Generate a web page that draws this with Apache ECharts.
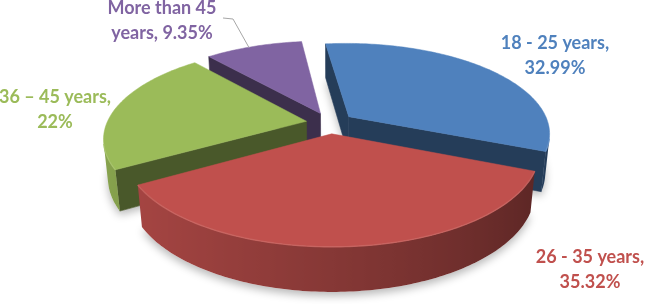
<!DOCTYPE html>
<html><head><meta charset="utf-8">
<script src="https://cdn.jsdelivr.net/npm/echarts@6/dist/echarts.min.js"></script>
<style>html,body{margin:0;padding:0;background:#fff}#chart{width:645px;height:304px}</style>
</head><body><div id="chart"></div>
<script>
// ---- data ----
const categories = ['18 - 25 years', '26 - 35 years', '36 \u2013 45 years', 'More than 45 years'];
const values = [32.99, 35.32, 22, 9.35];

// ---- style / layout ----
const colors = ['#4F81BD', '#C0504D', '#9BBB59', '#8064A2'];
const VIEW = { cx: 330, cy: 123, alphaDeg: 26.3, dist: 5.01, focal: 1000, depth: 0.22, explode: 0.12, startDeg: -97 };
const labelLayout = [[555, 56], [590, 270], [55, 110], [162, 21]];
const labelFirstLineWords = [4, 4, 4, 3];
const leader = { index: 3, from: [223, 18], via: [233, 19], frac: 0.45 };

const D2R = Math.PI / 180;
const total = values.reduce((a, b) => a + b, 0);
const sa = Math.sin(VIEW.alphaDeg * D2R), ca = Math.cos(VIEW.alphaDeg * D2R);
const cam = [0, VIEW.dist * sa, VIEW.dist * ca];

function project(p) {
  const yc = p[1] * ca - p[2] * sa;
  const zc = p[2] * ca + p[1] * sa;
  const s = VIEW.focal / (VIEW.dist - zc);
  return [VIEW.cx + p[0] * s, VIEW.cy - yc * s];
}
function visible(n, p) {
  return n[0] * (cam[0] - p[0]) + n[1] * (cam[1] - p[1]) + n[2] * (cam[2] - p[2]) > 0;
}
function shade(hex, f) {
  const r = parseInt(hex.slice(1, 3), 16), g = parseInt(hex.slice(3, 5), 16), b = parseInt(hex.slice(5, 7), 16);
  const c = v => Math.max(0, Math.min(255, Math.round(f > 1 ? v + (255 - v) * (f - 1) : v * f)));
  return 'rgb(' + c(r) + ',' + c(g) + ',' + c(b) + ')';
}
function labelText(i, v) {
  const words = (categories[i] + ', ' + v + '%').split(' ');
  const k = labelFirstLineWords[i];
  return words.slice(0, k).join(' ') + '\n' + words.slice(k).join(' ');
}

// slice angles from data
const starts = [];
let cum = 0;
values.forEach(v => { starts.push(VIEW.startDeg * D2R + cum / total * 2 * Math.PI); cum += v; });
function sliceGeom(i, v) {
  const a0 = starts[i], a1 = a0 + v / total * 2 * Math.PI, mid = (a0 + a1) / 2;
  return { a0, a1, mid, ox: VIEW.explode * Math.cos(mid), oz: VIEW.explode * Math.sin(mid) };
}
// painter order: farther slices first
const order = values.map((v, i) => {
  const g = sliceGeom(i, v);
  const c = [g.ox + 0.5 * Math.cos(g.mid), 0, g.oz + 0.5 * Math.sin(g.mid)];
  return { i, d: Math.hypot(c[0] - cam[0], c[1] - cam[1], c[2] - cam[2]) };
}).sort((a, b) => b.d - a.d);
const rank = [];
order.forEach((o, r) => { rank[o.i] = r; });

function sideShade(th) { return 0.45 + 0.42 * (1 + Math.cos(th - 170 * D2R)) / 2; }

function renderItem(params, api) {
  const i = params.dataIndex;
  const v = api.value(0);
  const g = sliceGeom(i, v);
  const col = colors[i];
  const H = -VIEW.depth;
  const P = (th, Y, rr) => [g.ox + (rr == null ? 1 : rr) * Math.cos(th), Y, g.oz + (rr == null ? 1 : rr) * Math.sin(th)];
  const apexT = [g.ox, 0, g.oz], apexB = [g.ox, H, g.oz];
  const n = Math.max(8, Math.ceil((g.a1 - g.a0) / (1 * D2R)));
  const ths = [];
  for (let k = 0; k <= n; k++) ths.push(g.a0 + (g.a1 - g.a0) * k / n);
  const base = 100 + rank[i] * 1000;
  const children = [];

  // bottom with shadow
  const bot = [project(apexB)].concat(ths.map(t => project(P(t, H))));
  children.push({ type: 'polygon', shape: { points: bot }, z2: rank[i],
    style: { fill: '#ffffff', shadowBlur: 9, shadowColor: 'rgba(0,0,0,0.28)', shadowOffsetY: 4 } });

  // cut faces
  const cutF = 0.47;
  const nS = [Math.sin(g.a0), 0, -Math.cos(g.a0)];
  if (visible(nS, P(g.a0, H / 2, 0.5))) {
    children.push({ type: 'polygon', z2: base + 1,
      shape: { points: [project(apexT), project(P(g.a0, 0)), project(P(g.a0, H)), project(apexB)] },
      style: { fill: shade(col, cutF), stroke: shade(col, cutF), lineWidth: 0.6 } });
  }
  const nE = [-Math.sin(g.a1), 0, Math.cos(g.a1)];
  if (visible(nE, P(g.a1, H / 2, 0.5))) {
    children.push({ type: 'polygon', z2: base + 1,
      shape: { points: [project(apexT), project(P(g.a1, 0)), project(P(g.a1, H)), project(apexB)] },
      style: { fill: shade(col, cutF), stroke: shade(col, cutF), lineWidth: 0.6 } });
  }
  // outer side: one polygon over the visible angle range, shaded with a gradient
  const vis = ths.map(t => visible([Math.cos(t), 0, Math.sin(t)], P(t, H / 2)));
  let k0 = vis.indexOf(true), k1 = vis.lastIndexOf(true);
  if (k0 >= 0 && k1 > k0) {
    const sub = ths.slice(k0, k1 + 1);
    const topE = sub.map(t => project(P(t, 0)));
    const botE = sub.map(t => project(P(t, H))).reverse();
    const xs = topE.map(p => p[0]);
    const xmin = Math.min.apply(null, xs), xmax = Math.max.apply(null, xs);
    const stops = sub.map((t, j) => ({ offset: xmax > xmin ? (xs[j] - xmin) / (xmax - xmin) : 0, color: shade(col, sideShade(t)) }))
      .sort((a, b) => a.offset - b.offset);
    children.push({ type: 'polygon', z2: base + 2, shape: { points: topE.concat(botE) },
      style: { fill: { type: 'linear', x: xmin, y: 0, x2: xmax, y2: 0, global: true, colorStops: stops } } });
    // rim highlight
    children.push({ type: 'polyline', z2: base + 11, shape: { points: topE },
      style: { stroke: shade(col, 1.12), lineWidth: 1.4, fill: null, opacity: 0.8 } });
  }
  // top face
  const top = [project(apexT)].concat(ths.map(t => project(P(t, 0))));
  children.push({ type: 'polygon', shape: { points: top }, z2: base + 10,
    style: { fill: col, stroke: col, lineWidth: 0.5 } });

  // label
  children.push({ type: 'text', x: labelLayout[i][0], y: labelLayout[i][1], z2: 9000,
    style: { text: labelText(i, v), fill: col, fontFamily: 'Lato', fontWeight: 'bold', fontSize: 18,
      lineHeight: 25, align: 'center', verticalAlign: 'middle' } });
  if (i === leader.index) {
    const tgt = project(P(g.a0 + (g.a1 - g.a0) * leader.frac, 0));
    children.push({ type: 'polyline', z2: 9000, shape: { points: [leader.from, leader.via, tgt] },
      style: { stroke: '#A6A6A6', lineWidth: 1, fill: null } });
  }
  return { type: 'group', children };
}

const chart = echarts.init(document.getElementById('chart'), null, { renderer: 'canvas' });
chart.setOption({
  animation: false,
  series: [{ type: 'custom', coordinateSystem: 'none', silent: true, renderItem, data: values.map(v => [v]) }]
});
</script></body></html>
